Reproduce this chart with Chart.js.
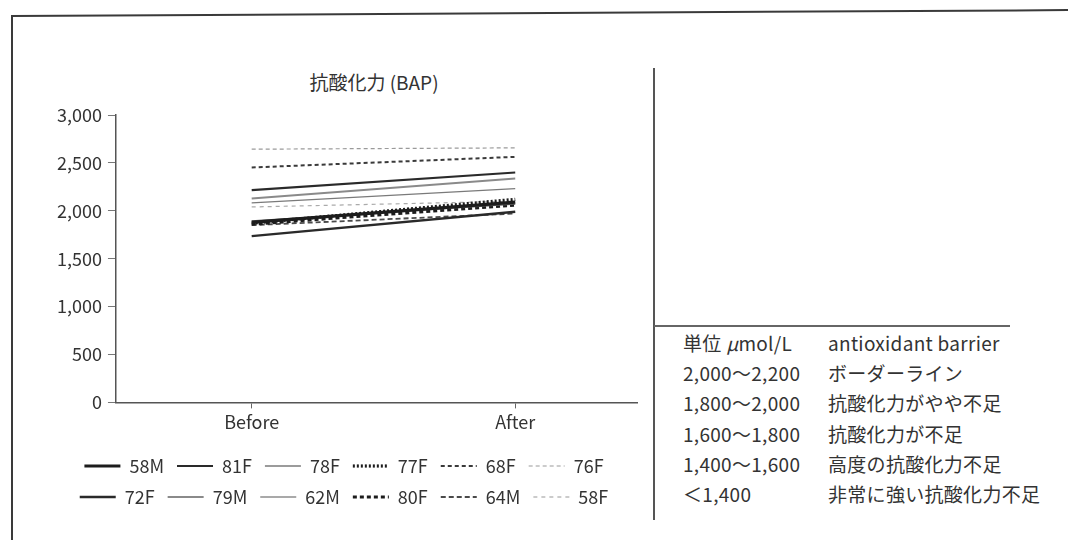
<!DOCTYPE html>
<html>
<head>
<meta charset="utf-8">
<script src="https://cdn.jsdelivr.net/npm/chart.js@4.4.1/dist/chart.umd.min.js"></script>
<style>
	body { margin: 0; background: #fff; }
	#page { position: relative; width: 1068px; height: 540px; overflow: hidden; background: #fff;
		font-family: "Noto Sans CJK JP", "Noto Sans", sans-serif; color: #333; }
	.ln { position: absolute; background: #3a3a3a; }
	#title { position: absolute; left: 0; width: 748px; top: 68px; text-align: center; font-size: 19px; line-height: 28px; }
	#wrap { position: absolute; left: 0; top: 60px; width: 660px; height: 480px; }
	.row { position: absolute; left: 0; width: 1068px; font-size: 19px; line-height: 24px; white-space: nowrap; letter-spacing: 0.3px; }
	.row span { position: absolute; }
</style>
</head>
<body>
<div id="page">
	<div class="ln" style="left:12px;top:15px;width:1060px;height:2px;transform:rotate(-0.32deg);transform-origin:0 0"></div>
	<div class="ln" style="left:11px;top:15px;width:2px;height:525px"></div>
	<div class="ln" style="left:653px;top:68px;width:1.5px;height:452px;background:#555"></div>
	<div class="ln" style="left:654px;top:325px;width:356px;height:1.5px;background:#666"></div>
	<div id="title">抗酸化力 (BAP)</div>
	<div id="wrap"><canvas id="bap"></canvas></div>
	<div id="ranges"></div>
</div>
<script>
// BAP values (μmol/L), before and after, per subject
const phases = ['Before', 'After']
const subjects = ['58M', '81F', '78F', '77F', '68F', '76F', '72F', '79M', '62M', '80F', '64M', '58F']
const before = [1880, 2215, 2082, 1870, 2452, 2643, 1736, 2128, 1895, 1860, 1850, 2040]
const after = [2090, 2400, 2232, 2120, 2563, 2657, 1990, 2337, 2070, 2060, 1971, 2100]

// reference table on the right
const rangeLabels = ['単位 μmol/L', '2,000〜2,200', '1,800〜2,000', '1,600〜1,800', '1,400〜1,600', '＜1,400']
const rangeNotes = ['antioxidant barrier', 'ボーダーライン', '抗酸化力がやや不足', '抗酸化力が不足', '高度の抗酸化力不足', '非常に強い抗酸化力不足']

// line look per subject (same order as subjects)
const lineStyles = [
	{ c: '#1c1c1c', w: 3.2, d: [] },
	{ c: '#2a2a2a', w: 2.2, d: [] },
	{ c: '#7a7a7a', w: 1.3, d: [] },
	{ c: '#1c1c1c', w: 3.2, d: [2, 2] },
	{ c: '#3a3a3a', w: 2, d: [4, 3] },
	{ c: '#9a9a9a', w: 1.2, d: [4, 3] },
	{ c: '#2a2a2a', w: 2.4, d: [] },
	{ c: '#8a8a8a', w: 2, d: [] },
	{ c: '#555555', w: 1.2, d: [] },
	{ c: '#1c1c1c', w: 3, d: [4, 3] },
	{ c: '#4a4a4a', w: 1.8, d: [5, 3] },
	{ c: '#aaaaaa', w: 1.2, d: [4, 4] }
]

var box = document.getElementById('ranges')
rangeLabels.forEach(function(lab, i) {
	var row = document.createElement('div')
	row.className = 'row'
	row.style.top = (331 + i * 30.2) + 'px'
	row.innerHTML = '<span style="left:683px">' + lab.replace('μ', '<i>μ</i>') + '</span><span style="left:828px">' + rangeNotes[i] + '</span>'
	box.appendChild(row)
})

Chart.defaults.font.family = '"Noto Sans CJK JP", "Noto Sans", sans-serif'
Chart.defaults.color = '#333'

var datasets = subjects.map(function(s, i) {
	return {
		label: s,
		data: [{ x: 0, y: before[i] }, { x: 1, y: after[i] }],
		borderColor: lineStyles[i].c,
		backgroundColor: lineStyles[i].c,
		borderWidth: lineStyles[i].w,
		borderDash: lineStyles[i].d,
		pointRadius: 0,
		fill: false
	}
})

var chart = new Chart(document.getElementById('bap'), {
	type: 'line',
	data: { datasets: datasets },
	options: {
		responsive: true,
		maintainAspectRatio: false,
		animation: false,
		layout: { padding: { top: 55, left: 51, right: 23, bottom: 24 } },
		plugins: {
			tooltip: { enabled: false },
			legend: {
				position: 'bottom',
				labels: {
					usePointStyle: true,
					pointStyleWidth: 36,
					padding: 13,
					color: '#333',
					font: { size: 18 },
					generateLabels: function(ch) {
						return ch.data.datasets.map(function(ds, i) {
							return {
								text: ds.label,
								strokeStyle: ds.borderColor,
								fillStyle: ds.borderColor,
								fontColor: '#333',
								lineWidth: ds.borderWidth,
								lineDash: ds.borderDash,
								pointStyle: 'line',
								hidden: false,
								datasetIndex: i
							}
						})
					}
				}
			}
		},
		scales: {
			x: {
				type: 'linear',
				min: -0.515,
				max: 1.462,
				afterBuildTicks: function(s) { s.ticks = [{ value: 0 }, { value: 1 }] },
				afterFit: function(s) { s.height += 8 },
				ticks: {
					padding: 3,
					font: { size: 18 },
					color: '#333',
					callback: function(v) { return phases[v] }
				},
				grid: { drawOnChartArea: false, tickLength: 6, color: '#666' },
				border: { color: '#555', width: 1.5 }
			},
			y: {
				min: 0,
				max: 3000,
				ticks: {
					stepSize: 500,
					padding: 6,
					font: { size: 18 },
					color: '#333',
					callback: function(v) { return v.toLocaleString('en-US') }
				},
				grid: { drawOnChartArea: false, tickLength: 8, color: '#777' },
				border: { color: '#555', width: 1.5 }
			}
		}
	}
})
</script>
</body>
</html>
